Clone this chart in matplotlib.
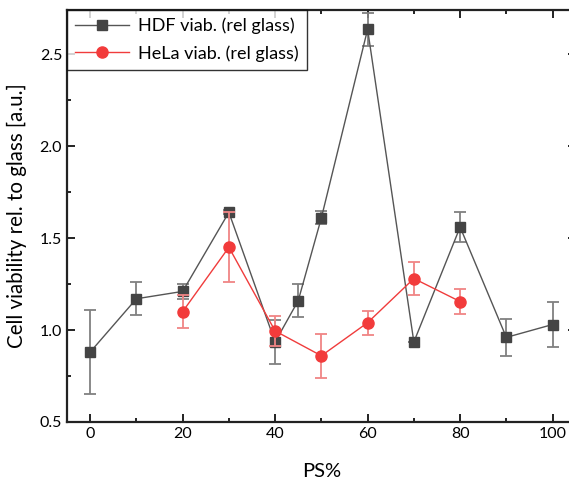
import matplotlib
matplotlib.use("Agg")
import matplotlib.pyplot as plt
from matplotlib.ticker import MultipleLocator

plt.rcParams['font.family'] = ['Lato', 'DejaVu Sans']

# HDF series
hdf_x = [0, 10, 20, 30, 40, 45, 50, 60, 70, 80, 90, 100]
hdf_y = [0.88, 1.17, 1.21, 1.64, 0.935, 1.16, 1.61, 2.635, 0.935, 1.56, 0.96, 1.03]
hdf_err = [0.23, 0.09, 0.04, 0.01, 0.12, 0.09, 0.035, 0.09, 0.0, 0.08, 0.10, 0.12]

# HeLa series
hela_x = [20, 30, 40, 50, 60, 70, 80]
hela_y = [1.10, 1.45, 0.995, 0.86, 1.04, 1.28, 1.155]
hela_err = [0.09, 0.19, 0.08, 0.12, 0.065, 0.09, 0.07]

fig = plt.figure(figsize=(5.69, 4.82), dpi=100)
ax = fig.add_axes([0.1178, 0.1245, 0.894, 0.8555])

eb1 = ax.errorbar(hdf_x, hdf_y, yerr=hdf_err, color='#555555', lw=1.0,
                  marker='s', ms=6.5, mfc='#444444', mec='#444444',
                  ecolor='#808080', elinewidth=1.3, capsize=4, capthick=1.3,
                  zorder=3)
eb2 = ax.errorbar(hela_x, hela_y, yerr=hela_err, color='#f03c3c', lw=1.0,
                  marker='o', ms=8, mfc='#f23b3b', mec='#f23b3b',
                  ecolor='#f08585', elinewidth=1.3, capsize=4, capthick=1.3,
                  zorder=4)

ax.set_xlim(-5, 105)
ax.set_ylim(0.5, 2.742)
ax.set_xticks([0, 20, 40, 60, 80, 100])
ax.xaxis.set_minor_locator(MultipleLocator(10))
ax.set_yticks([0.5, 1.0, 1.5, 2.0, 2.5])
ax.yaxis.set_minor_locator(MultipleLocator(0.25))
ax.tick_params(which='both', direction='in', top=True, right=True,
               labelsize=11.5, width=1.4, color='#222222')
ax.tick_params(which='major', length=6)
ax.tick_params(which='minor', length=3)
for s in ax.spines.values():
    s.set_linewidth(1.6)
    s.set_color('#222222')

ax.set_xlabel('PS%', fontsize=14.5, labelpad=16)
ax.set_ylabel('Cell viability rel. to glass [a.u.]', fontsize=14.8, labelpad=9)

leg = ax.legend([eb1.lines[0], eb2.lines[0]],
                ['HDF viab. (rel glass)', 'HeLa viab. (rel glass)'],
                loc='upper left', fontsize=13, borderaxespad=0,
                fancybox=False, handlelength=3.0, borderpad=0.45,
                labelspacing=0.6, handletextpad=0.5)
leg.get_frame().set_edgecolor('black')
leg.get_frame().set_linewidth(1.0)

fig.savefig('out.png', dpi=100)
